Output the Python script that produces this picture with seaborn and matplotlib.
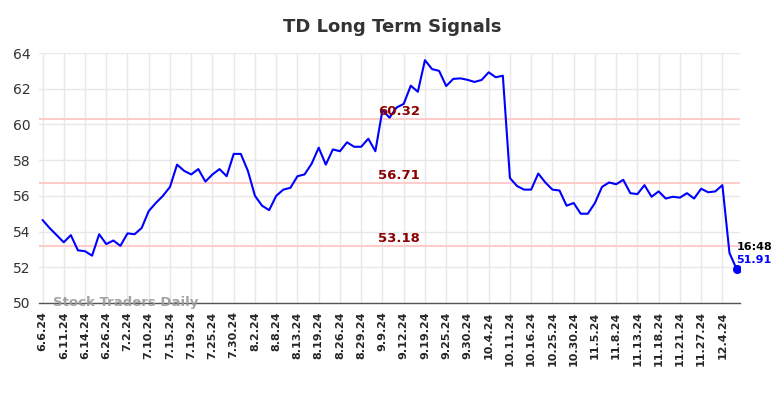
import matplotlib
matplotlib.use("Agg")
import matplotlib.pyplot as plt
import seaborn as sns
import numpy as np

# daily signal values (6.6.24 .. 12.4.24)
values = [
    54.65, 54.2, 53.8, 53.4, 53.8, 52.95, 52.9, 52.65, 53.85, 53.3,
    53.5, 53.2, 53.9, 53.85, 54.2, 55.15, 55.6, 56.0, 56.5, 57.75,
    57.4, 57.2, 57.5, 56.8, 57.2, 57.5, 57.1, 58.35, 58.35, 57.4,
    56.0, 55.45, 55.2, 56.0, 56.35, 56.45, 57.1, 57.2, 57.8, 58.7,
    57.75, 58.6, 58.5, 59.0, 58.75, 58.75, 59.2, 58.5, 60.8, 60.38,
    60.95, 61.15, 62.17, 61.83, 63.6, 63.1, 63.0, 62.15, 62.55, 62.58,
    62.5, 62.38, 62.49, 62.92, 62.64, 62.73, 57.0, 56.55, 56.35, 56.35,
    57.25, 56.75, 56.35, 56.3, 55.45, 55.6, 55.0, 55.0, 55.6, 56.5,
    56.75, 56.65, 56.9, 56.15, 56.1, 56.6, 55.95, 56.25, 55.85, 55.95,
    55.9, 56.15, 55.85, 56.4, 56.2, 56.25, 56.6, 52.8, 51.91,
]

tick_labels = [
    "6.6.24", "6.11.24", "6.14.24", "6.26.24", "7.2.24", "7.10.24", "7.15.24",
    "7.19.24", "7.25.24", "7.30.24", "8.2.24", "8.8.24", "8.13.24", "8.19.24",
    "8.26.24", "8.29.24", "9.9.24", "9.12.24", "9.19.24", "9.25.24", "9.30.24",
    "10.4.24", "10.11.24", "10.16.24", "10.25.24", "10.30.24", "11.5.24",
    "11.8.24", "11.13.24", "11.18.24", "11.21.24", "11.27.24", "12.4.24",
]

levels = [60.32, 56.71, 53.18]
last_time = "16:48"

sns.set_style("whitegrid")
plt.rcParams['font.family'] = ['DejaVu Sans']

fig = plt.figure(figsize=(7.84, 3.98), dpi=100)
ax = fig.add_axes([0.0497, 0.2387, 0.8943, 0.6281])

x = np.arange(len(values))
for lv in levels:
    ax.axhline(lv, color="#ffcccc", lw=1.5, zorder=1)
    ax.text(50.3, lv + 0.05, f"{lv:.2f}", color="#8b0000", fontsize=9.5,
            fontweight="bold", ha="center", va="bottom", zorder=3)

sns.lineplot(x=x, y=values, ax=ax, color="blue", lw=1.5, zorder=2)
ax.scatter([x[-1]], [values[-1]], color="blue", s=30, zorder=4)
ax.text(x[-1], values[-1] + 1.25, last_time, color="black", fontsize=8,
        fontweight="bold", ha="left", va="center")
ax.text(x[-1], values[-1] + 0.5, f"{values[-1]:.2f}", color="blue", fontsize=8,
        fontweight="bold", ha="left", va="center")

ax.set_xlim(-0.5, len(values) - 0.5)
ax.set_ylim(50, 64)
ax.set_yticks(np.arange(50, 65, 2))
ax.set_xticks(x[::3])
ax.set_xticklabels(tick_labels, rotation=90, fontsize=8, fontweight="bold")
ax.tick_params(axis="y", labelsize=10, length=0, pad=6, colors="#333333")
ax.tick_params(axis="x", length=0, pad=6)
ax.grid(True, color="#e8e8e8", lw=1)

for s in ["left", "right", "top"]:
    ax.spines[s].set_visible(False)
ax.spines["bottom"].set_color("#555555")
ax.spines["bottom"].set_linewidth(1)

ax.text(0.02, 0.0, "Stock Traders Daily", transform=ax.transAxes, color="#999999",
        fontsize=9.5, fontweight="bold", ha="left", va="center", alpha=0.9)

fig.suptitle("TD Long Term Signals", x=0.5, y=0.955, fontsize=13,
             fontweight="bold", color="#333333")

fig.savefig("out.png", dpi=100)
